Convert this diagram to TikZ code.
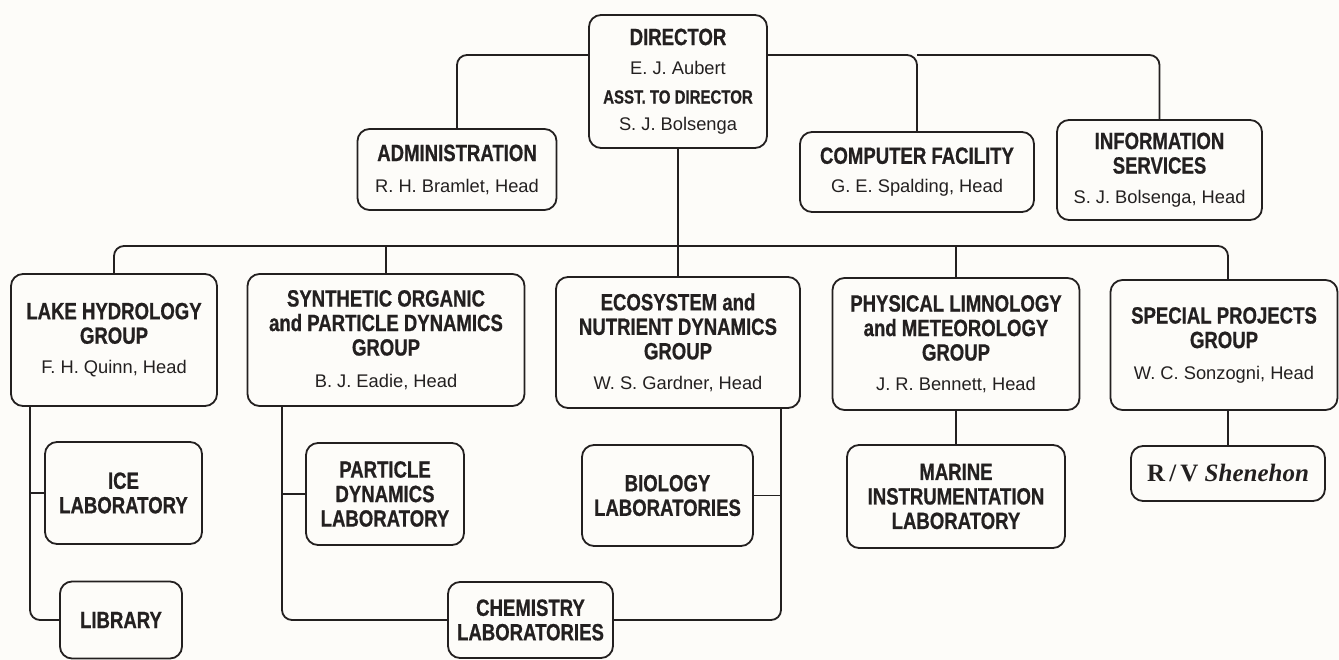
\documentclass[tikz,border=0pt]{standalone}
\usepackage{fontspec}
\newfontfamily\titlefam[FakeStretch=0.79, BoldFeatures={FakeBold=0.7}]{Liberation Sans}
\newfontfamily\namefam{Liberation Sans}
\newfontfamily\rvfam{Liberation Serif}
\definecolor{ink}{RGB}{35,32,32}
\definecolor{paper}{RGB}{253,252,249}
\newcommand\titlef{\titlefam\bfseries\fontsize{23.5}{24.5}\selectfont}
\newcommand\namef{\namefam\mdseries\fontsize{18.3}{20}\selectfont}
\newcommand\asstf{\titlefam\bfseries\fontsize{19}{20}\selectfont}
\tikzset{
  box/.style 2 args={draw=ink, line width=1.8pt, rounded corners=12pt, align=center,
    inner sep=0pt, text=ink, font=\titlef, minimum width=#1pt, minimum height=#2pt},
  conn/.style={draw=ink, line width=1.8pt, rounded corners=10pt},
}
\begin{document}
\begin{tikzpicture}[x=1pt,y=-1pt]
\useasboundingbox (0,0) rectangle (1339,660);
\fill[paper] (0,0) rectangle (1339,660);
% top level
\node[box={178}{133}] (dir) at (678,81.5) {DIRECTOR\\[4.5pt]{\namef E. J. Aubert}\\[5pt]{\asstf ASST. TO DIRECTOR}\\[2.5pt]{\namef S. J. Bolsenga}};
\node[box={199}{81}] (adm) at (457,169.5) {ADMINISTRATION\\[6.5pt]{\namef R. H. Bramlet, Head}};
\node[box={234}{80}] (comp) at (917,172) {COMPUTER FACILITY\\[4.5pt]{\namef G. E. Spalding, Head}};
\node[box={205}{100}] (info) at (1159.5,170) {INFORMATION\\SERVICES\\[5.5pt]{\namef S. J. Bolsenga, Head}};
% groups
\node[box={206}{132}] (lake) at (114,340) {LAKE HYDROLOGY\\GROUP\\[5.5pt]{\namef F. H. Quinn, Head}};
\node[box={277}{132}] (syn) at (386,340) {SYNTHETIC ORGANIC\\and PARTICLE DYNAMICS\\GROUP\\[7.5pt]{\namef B. J. Eadie, Head}};
\node[box={244}{131}] (eco) at (678,342.5) {ECOSYSTEM and\\NUTRIENT DYNAMICS\\GROUP\\[5.5pt]{\namef W. S. Gardner, Head}};
\node[box={247}{132}] (phy) at (956,344) {PHYSICAL LIMNOLOGY\\and METEOROLOGY\\GROUP\\[5.5pt]{\namef J. R. Bennett, Head}};
\node[box={227}{130}] (spec) at (1224,345) {SPECIAL PROJECTS\\GROUP\\[6.5pt]{\namef W. C. Sonzogni, Head}};
% labs
\node[box={157}{102}] (ice) at (123.5,493) {ICE\\LABORATORY};
\node[box={122}{77}] (lib) at (121,620) {LIBRARY};
\node[box={158}{102}] (part) at (385,494) {PARTICLE\\DYNAMICS\\LABORATORY};
\node[box={165}{76}] (chem) at (530.5,620) {CHEMISTRY\\LABORATORIES};
\node[box={171}{101}] (bio) at (667.5,495.5) {BIOLOGY\\LABORATORIES};
\node[box={218}{103}] (mar) at (956,496.5) {MARINE\\INSTRUMENTATION\\LABORATORY};
\node[box={194}{55}] (rv) at (1228,473.5) {\rvfam\bfseries\fontsize{25}{26}\selectfont R\,/\,V \itshape Shenehon};
% helper coordinates
\coordinate (top) at (678,55);
\coordinate (bus) at (678,246);
\coordinate (lakev) at (30,0);
\coordinate (synv) at (282,0);
\coordinate (ecov) at (781,0);
% connectors
\draw[conn] (dir.west |- top) -| (adm.north);
\draw[conn] (dir.east |- top) -| (comp.north);
\draw[conn] (comp.north |- top) -| (info.north);
\draw[conn] (dir.south) -- (eco.north);
\draw[conn] (lake.north) -- (lake.north |- bus) -- (rv.north |- bus) -- (rv.north |- spec.north);
\draw[conn] (syn.north) -- (syn.north |- bus);
\draw[conn] (phy.north) -- (phy.north |- bus);
\draw[conn] (lake.south -| lakev) |- (lib.west);
\draw[conn] (ice.west) -- (ice.west -| lakev);
\draw[conn] (syn.south -| synv) |- (chem.west);
\draw[conn] (part.west) -- (part.west -| synv);
\draw[conn] (eco.south -| ecov) |- (chem.east);
\draw[conn] (bio.east) -- (bio.east -| ecov);
\draw[conn] (phy.south) -- (mar.north);
\draw[conn] (rv.north |- spec.south) -- (rv.north);
\end{tikzpicture}
\end{document}
